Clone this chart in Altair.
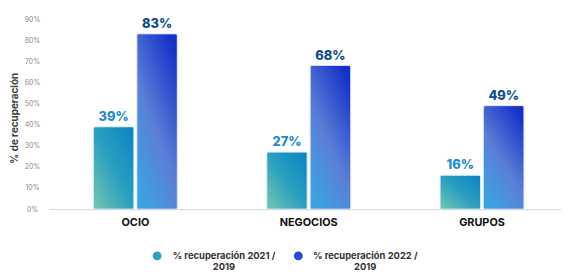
import altair as alt
import pandas as pd

categories = ["OCIO", "NEGOCIOS", "GRUPOS"]
series = ["% recuperación 2021 / 2019", "% recuperación 2022 / 2019"]
v2021 = [39, 27, 16]
v2022 = [83, 68, 49]
y_ticks = [0, 10, 20, 30, 40, 50, 60, 70, 80, 90]

rows = []
for c, a, b in zip(categories, v2021, v2022):
    rows.append({"cat": c, "serie": series[0], "v": a})
    rows.append({"cat": c, "serie": series[1], "v": b})
df = pd.DataFrame(rows)

FONT = "Inter"

grad1 = alt.Gradient(
    gradient="linear",
    stops=[alt.GradientStop(color="#74c7b1", offset=0),
           alt.GradientStop(color="#2a9fbf", offset=0.5),
           alt.GradientStop(color="#0a82c4", offset=1)],
    x1=0, y1=1, x2=1, y2=0,
)
grad2 = alt.Gradient(
    gradient="linear",
    stops=[alt.GradientStop(color="#3ba3e2", offset=0),
           alt.GradientStop(color="#5a7fd6", offset=0.45),
           alt.GradientStop(color="#1530c8", offset=1)],
    x1=0.2, y1=1, x2=0.8, y2=0,
)

x_enc = alt.X(
    "cat:N", sort=categories, title=None,
    scale=alt.Scale(paddingInner=0.516, paddingOuter=0.258),
    axis=alt.Axis(labelAngle=0, ticks=False, domainColor="#dcdce4", domainWidth=1.2,
                  labelFont=FONT, labelFontSize=11, labelFontWeight="bold",
                  labelColor="#111111", labelPadding=8),
)
xo_enc = alt.XOffset("serie:N", sort=series,
                     scale=alt.Scale(domain=series, paddingInner=0.068, paddingOuter=0))
y_enc = alt.Y(
    "v:Q", title="% de recuperación",
    scale=alt.Scale(domain=[0, 90], nice=False),
    axis=alt.Axis(values=y_ticks, labelExpr="datum.value + '%'", domain=False, ticks=False,
                  tickSize=0, grid=False, labelFont=FONT, labelFontSize=7, labelColor="#8a8a8a",
                  labelAlign="center", labelPadding=17, titleFont=FONT, titleFontSize=10,
                  titleFontWeight="bold", titleColor="#404040", titlePadding=5, titleY=100),
)

base = alt.Chart(df).transform_calculate(lab="datum.v + '%'")

bars1 = base.transform_filter(alt.datum.serie == series[0]).mark_bar(
    fill=grad1, stroke="#bfe6f0", strokeWidth=1, strokeOpacity=0.7, cornerRadius=2
).encode(x=x_enc, xOffset=xo_enc, y=y_enc)
bars2 = base.transform_filter(alt.datum.serie == series[1]).mark_bar(
    fill=grad2, stroke="#c3d2f5", strokeWidth=1, strokeOpacity=0.7, cornerRadius=2
).encode(x=x_enc, xOffset=xo_enc, y=y_enc)

text1 = base.transform_filter(alt.datum.serie == series[0]).mark_text(
    dy=-10, font=FONT, fontSize=13, fontWeight=800, color="#1a8dcf", baseline="middle"
).encode(x=x_enc, xOffset=xo_enc, y=y_enc, text="lab:N")
text2 = base.transform_filter(alt.datum.serie == series[1]).mark_text(
    dy=-10, font=FONT, fontSize=13, fontWeight=800, color="#0d4d8a", baseline="middle"
).encode(x=x_enc, xOffset=xo_enc, y=y_enc, text="lab:N")

legend_layer = base.mark_point(filled=True, opacity=0, size=1).encode(
    x=x_enc, xOffset=xo_enc, y=y_enc,
    color=alt.Color(
        "serie:N", sort=series,
        scale=alt.Scale(domain=series, range=["#2aa3bf", "#2b48d3"]),
        legend=alt.Legend(
            title=None, orient="none", legendX=105, legendY=235, direction="horizontal",
            symbolType="circle", symbolSize=80, symbolOpacity=1, symbolStrokeWidth=0,
            labelFont=FONT, labelFontSize=9.5, labelFontWeight="bold", labelColor="#333333",
            labelAlign="center", labelOffset=63, labelLimit=300, columnPadding=18,
            labelExpr="split(replace(datum.label, '/ ', '/|'), '|')",
        ),
    ),
)

chart = alt.layer(bars1, bars2, text1, text2, legend_layer).properties(
    width=526.5, height=192.5,
    autosize=alt.AutoSizeParams(type="none"),
    padding={"left": 41.25, "top": 9.5, "right": -7.75, "bottom": 64},
).configure_view(stroke=None).configure_legend(labelLimit=300)

chart.save("out.html", embed_options={"renderer": "svg", "actions": False})
